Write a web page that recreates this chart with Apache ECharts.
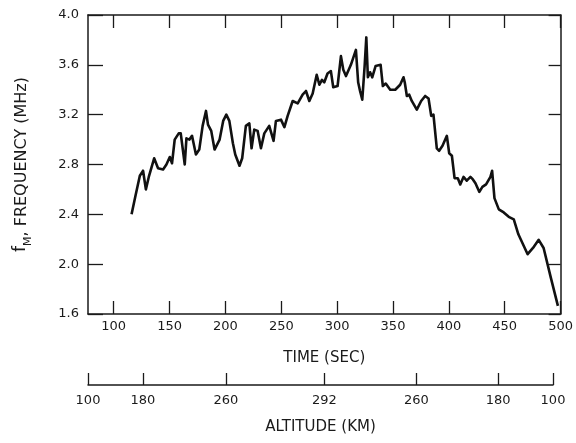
<!DOCTYPE html>
<html>
<head>
<meta charset="utf-8">
<script src="https://cdn.jsdelivr.net/npm/echarts@6/dist/echarts.min.js"></script>
<style>html,body{margin:0;padding:0;background:#fff}#c{width:576px;height:443px}</style>
</head>
<body>
<div id="c"></div>
<script>
// time (s) and f_M frequency (MHz)
const times = [116,119.5,123.4,126.3,128.8,131.4,136.2,139.7,144.2,147.2,150.2,152.2,154.6,158.2,160,163.6,165.1,167.8,170.1,173.6,176.6,179.6,182.6,184.4,187.3,190.3,194.8,198,200.8,203.5,206.7,208.8,210.5,212.6,215,218.3,221.4,223.4,225.8,228.8,231.8,234.8,239.2,243.1,245.2,249.7,252.8,255.7,260.2,264.7,269.1,272.1,275.1,278.1,281.7,284.1,286.4,288.5,291.4,294.4,296.5,300.4,303.4,305.5,307.9,312.3,316.8,318.8,320.5,322.5,324.6,326.1,327.5,329.5,331.4,334.4,338.9,340.9,343.5,347.5,352,356.4,359.4,360.5,362.4,364.5,366.8,371.3,375.2,378.8,381.8,384.2,386.2,389.2,391.3,394.3,398.2,400.3,402.7,405.1,408,410.2,413.1,416,419.3,421.5,423.8,427.3,430,433.3,437.2,438.7,440.8,444.7,449.1,453.6,458.1,462.2,470.5,475.3,480.4,484.8,491.3,497.6];
const freqs = [2.40,2.55,2.71,2.75,2.60,2.70,2.85,2.77,2.76,2.80,2.86,2.81,3.00,3.05,3.05,2.80,3.01,3.00,3.03,2.88,2.92,3.11,3.23,3.12,3.07,2.92,3.00,3.15,3.20,3.15,2.97,2.88,2.88,2.79,2.85,3.11,3.13,2.93,3.08,3.07,2.93,3.05,3.11,2.99,3.15,3.16,3.10,3.19,3.31,3.29,3.36,3.39,3.31,3.37,3.52,3.44,3.48,3.46,3.53,3.55,3.42,3.43,3.67,3.56,3.51,3.60,3.72,3.46,3.39,3.32,3.59,3.82,3.50,3.54,3.50,3.59,3.60,3.43,3.45,3.40,3.40,3.44,3.50,3.46,3.35,3.36,3.31,3.24,3.31,3.35,3.33,3.19,3.20,2.93,2.91,2.95,3.03,2.89,2.87,2.69,2.69,2.64,2.70,2.67,2.70,2.68,2.65,2.58,2.62,2.64,2.70,2.75,2.53,2.44,2.415,2.38,2.36,2.24,2.08,2.13,2.195,2.13,1.89,1.665];
const timeTicks = [100,150,200,250,300,350,400,450,500];
const freqTicks = [1.6,2.0,2.4,2.8,3.2,3.6,4.0];
const altitudeTickTimes = [77,126,200,288,370,443,492];
const altitudeTickLabels = ['100','180','260','292','260','180','100'];

const FONT = 'DejaVu Sans';
const INK = '#1a1a1a';
const data = times.map((t, i) => [t, freqs[i]]);

const chart = echarts.init(document.getElementById('c'), null, {renderer: 'canvas'});
chart.setOption({
  animation: false,
  backgroundColor: '#fff',
  grid: [
    {left: 88, right: 13, top: 15, bottom: 129},
    {left: 88, right: 23, top: 385, bottom: 58}
  ],
  xAxis: [
    {
      gridIndex: 0, type: 'value', position: 'bottom', min: 77, max: 500,
      axisLine: {show: true, lineStyle: {color: INK, width: 1.5}},
      axisTick: {show: true, inside: true, length: 13, customValues: timeTicks, lineStyle: {color: INK, width: 1.3}},
      axisLabel: {show: true, customValues: timeTicks, margin: 6, color: INK, fontFamily: FONT, fontSize: 13},
      splitLine: {show: false},
      name: 'TIME (SEC)', nameLocation: 'middle', nameGap: 37,
      nameTextStyle: {color: INK, fontFamily: FONT, fontSize: 15}
    },
    {
      gridIndex: 0, type: 'value', position: 'top', min: 77, max: 500,
      axisLine: {show: true, lineStyle: {color: INK, width: 1.5}},
      axisTick: {show: true, inside: true, length: 13, customValues: timeTicks, lineStyle: {color: INK, width: 1.3}},
      axisLabel: {show: false},
      splitLine: {show: false}
    },
    {
      gridIndex: 1, type: 'value', position: 'bottom', min: 77, max: 492,
      axisLine: {show: true, lineStyle: {color: INK, width: 1.5}},
      axisTick: {show: true, inside: true, length: 12, customValues: altitudeTickTimes, lineStyle: {color: INK, width: 1.3}},
      axisLabel: {
        show: true, customValues: altitudeTickTimes, margin: 9, color: INK, fontFamily: FONT, fontSize: 13,
        formatter: function (v) { const i = altitudeTickTimes.indexOf(v); return i >= 0 ? altitudeTickLabels[i] : ''; }
      },
      splitLine: {show: false},
      name: 'ALTITUDE (KM)', nameLocation: 'middle', nameGap: 35,
      nameTextStyle: {color: INK, fontFamily: FONT, fontSize: 15}
    }
  ],
  yAxis: [
    {
      gridIndex: 0, type: 'value', position: 'left', min: 1.6, max: 4.0,
      axisLine: {show: true, lineStyle: {color: INK, width: 1.5}},
      axisTick: {show: true, inside: true, length: 15, customValues: freqTicks, lineStyle: {color: INK, width: 1.3}},
      axisLabel: {show: true, customValues: freqTicks, margin: 9, color: INK, fontFamily: FONT, fontSize: 13,
        formatter: v => v.toFixed(1)},
      splitLine: {show: false},
      name: '{f|f}{sub|M}{n|, FREQUENCY (MHz)}', nameLocation: 'middle', nameGap: 54, nameRotate: 90,
      nameTextStyle: {
        color: INK, fontFamily: FONT, fontSize: 16,
        rich: {
          f: {fontFamily: FONT, fontSize: 17, color: INK, lineHeight: 22, verticalAlign: 'bottom', padding: [0,0,5,0]},
          sub: {fontFamily: FONT, fontSize: 11, color: INK, lineHeight: 22, verticalAlign: 'bottom'},
          n: {fontFamily: FONT, fontSize: 16, color: INK, lineHeight: 22, verticalAlign: 'bottom', padding: [0,0,4,0]}
        }
      }
    },
    {
      gridIndex: 0, type: 'value', position: 'right', min: 1.6, max: 4.0,
      axisLine: {show: true, lineStyle: {color: INK, width: 1.5}},
      axisTick: {show: true, inside: true, length: 12, customValues: freqTicks, lineStyle: {color: INK, width: 1.3}},
      axisLabel: {show: false},
      splitLine: {show: false}
    },
    {
      gridIndex: 1, type: 'value', show: false, min: 0, max: 1
    }
  ],
  series: [{
    type: 'line', xAxisIndex: 0, yAxisIndex: 0, data: data,
    showSymbol: false, symbol: 'none',
    lineStyle: {color: '#111', width: 2.6, join: 'round'}
  }]
});
</script>
</body>
</html>
